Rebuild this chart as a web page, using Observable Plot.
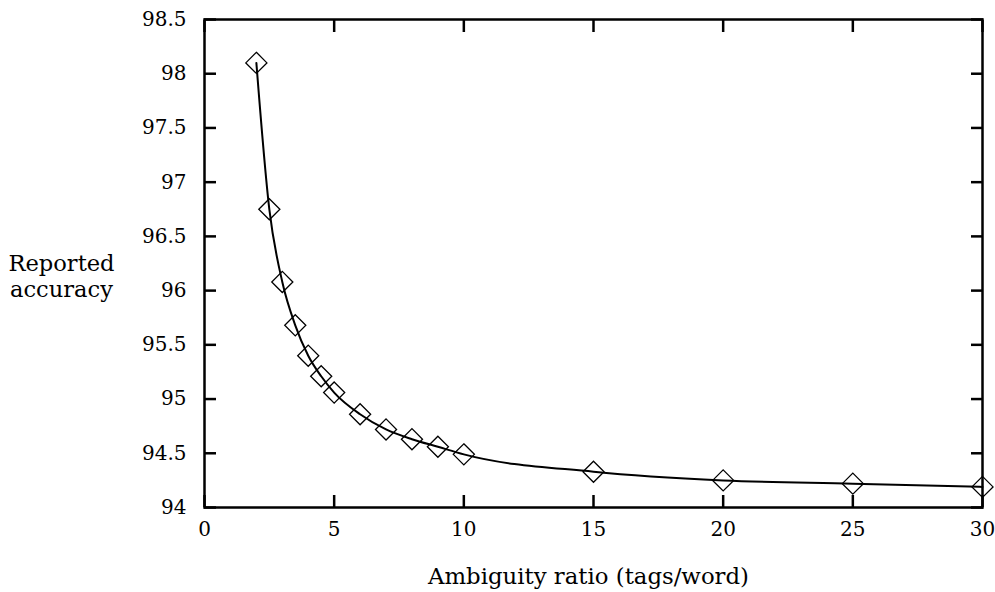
<!DOCTYPE html>
<html>
<head>
<meta charset="utf-8">
<script src="https://cdn.jsdelivr.net/npm/d3@7"></script>
<script src="https://cdn.jsdelivr.net/npm/@observablehq/plot@0.6"></script>
<style>
  html, body { margin: 0; padding: 0; background: #fff; }
  #chart { width: 995px; height: 592px; }
  #chart svg text { font-family: "DejaVu Serif", "Liberation Serif", serif !important; }
</style>
</head>
<body>
<div id="chart"></div>
<script>
// Data
const ambiguityRatio = [2, 2.5, 3, 3.5, 4, 4.5, 5, 6, 7, 8, 9, 10, 15, 20, 25, 30];
const reportedAccuracy = [98.10, 96.75, 96.08, 95.68, 95.40, 95.21, 95.06, 94.86, 94.72, 94.63, 94.56, 94.49, 94.33, 94.25, 94.22, 94.19];
const xTicks = [0, 5, 10, 15, 20, 25, 30];
const yTicks = [94, 94.5, 95, 95.5, 96, 96.5, 97, 97.5, 98, 98.5];
const xLabel = "Ambiguity ratio (tags/word)";
const yLabel = "Reported\naccuracy";

const data = ambiguityRatio.map((x, i) => ({x, y: reportedAccuracy[i]}));

const font = "DejaVu Serif";
const fmt = d => String(d);

const chart = Plot.plot({
  width: 995,
  height: 592,
  marginLeft: 204,
  marginRight: 13,
  marginTop: 19,
  marginBottom: 85,
  style: {fontFamily: font, background: "#fff", color: "#000", overflow: "visible"},
  x: {domain: [0, 30]},
  y: {domain: [94, 98.5]},
  marks: [
    Plot.line(data, {x: "x", y: "y", curve: "monotone-x", stroke: "#000", strokeWidth: 2}),
    Plot.dot(data, {x: "x", y: "y", symbol: "diamond2", r: 9.5, stroke: "#000", strokeWidth: 1.3, fill: "none"}),
    Plot.axisX(xTicks, {anchor: "bottom", tickSize: 12, dy: -12, tickPadding: 14, tickFormat: fmt,
      fontSize: 20, fontFamily: font, strokeWidth: 2.5, label: null, fill: "#000"}),
    Plot.axisX(xTicks, {anchor: "top", tickSize: 12, dy: 12, tickFormat: () => "", strokeWidth: 2.5, label: null}),
    Plot.axisY(yTicks, {anchor: "left", tickSize: 12, dx: 12, tickPadding: 18, tickFormat: fmt,
      fontSize: 20, fontFamily: font, strokeWidth: 2.5, label: null, fill: "#000"}),
    Plot.axisY(yTicks, {anchor: "right", tickSize: 12, dx: -12, tickFormat: () => "", strokeWidth: 2.5, label: null}),
    Plot.frame({stroke: "#000", strokeWidth: 2.5}),
    Plot.text([xLabel], {frameAnchor: "bottom", dx: -5, dy: 76, text: d => d, fontSize: 22.8,
      fontFamily: font, fill: "#000"}),
    Plot.text([yLabel], {frameAnchor: "left", dx: -143, dy: 12, text: d => d, fontSize: 22.6,
      fontFamily: font, fill: "#000", textAnchor: "middle", lineHeight: 1.18})
  ]
});

document.getElementById("chart").appendChild(chart);
</script>
</body>
</html>
